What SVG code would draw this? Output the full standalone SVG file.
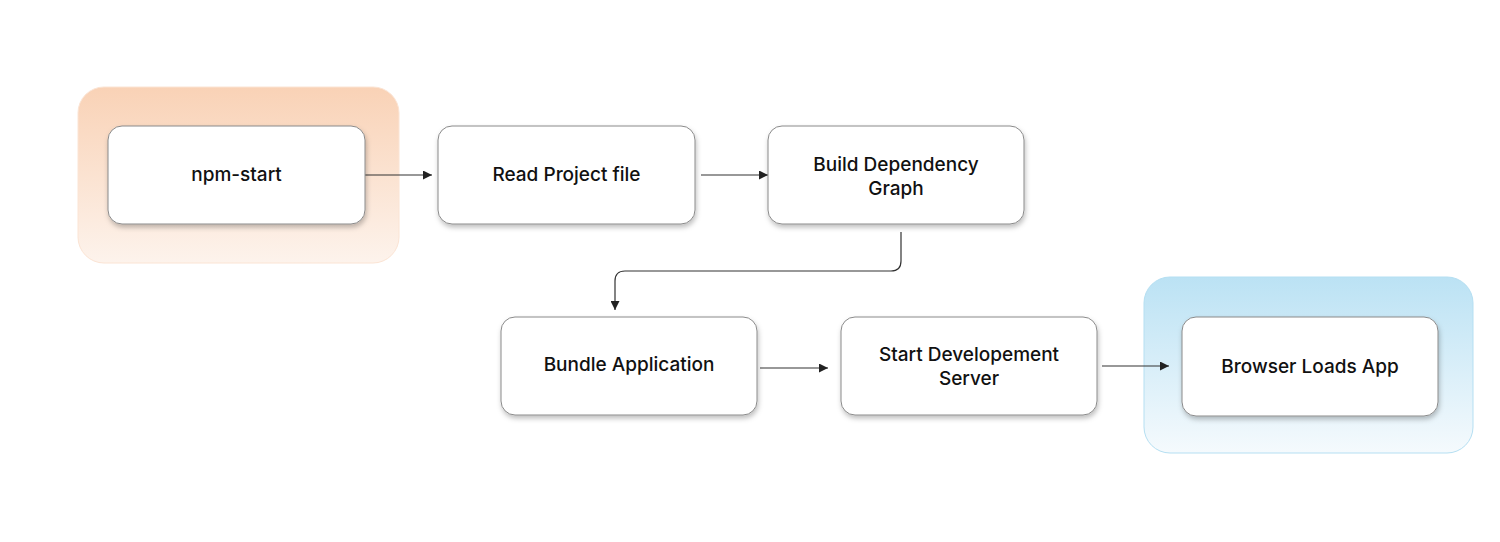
<svg xmlns="http://www.w3.org/2000/svg" width="1500" height="542" viewBox="0 0 1500 542">
<style>
.node rect{fill:#fff;stroke:#8a8a8a;stroke-width:1;filter:url(#sh)}
.node text{font-family:Inter,"Noto Sans","Liberation Sans",sans-serif;font-size:19px;font-weight:500;fill:#111;text-anchor:middle;dominant-baseline:central}
.conn path{fill:none;stroke:#333;stroke-width:1.2;marker-end:url(#arr)}
</style>
<defs>
<linearGradient id="gOr" x1="0" y1="0" x2="0" y2="1"><stop offset="0" stop-color="#F9D2B6"/><stop offset="1" stop-color="#FDF3EC"/></linearGradient>
<linearGradient id="gBl" x1="0" y1="0" x2="0" y2="1"><stop offset="0" stop-color="#BBE2F4"/><stop offset="1" stop-color="#F5FAFD"/></linearGradient>
<filter id="sh" x="-10%" y="-10%" width="120%" height="130%"><feDropShadow dx="1" dy="3" stdDeviation="2.5" flood-color="#000" flood-opacity="0.25"/></filter>
<marker id="arr" viewBox="0 0 10 10" refX="10" refY="5" markerWidth="9" markerHeight="9" markerUnits="userSpaceOnUse" orient="auto"><path d="M0,0 L10,5 L0,10 z" fill="#222"/></marker>
</defs>
<rect width="1500" height="542" fill="#fff"/>
<g id="container-start"><rect x="78" y="87" width="321" height="176" rx="26" fill="url(#gOr)" stroke="#FBE4D4" stroke-width="1"/></g>
<g id="container-browser"><rect x="1144" y="277" width="329" height="176" rx="26" fill="url(#gBl)" stroke="#B5DFF2" stroke-width="1"/></g>
<g class="conn" id="connectors">
<path d="M365,175 H432"/>
<path d="M701,175 H768"/>
<path d="M901,232 V261 Q901,271 891,271 H625 Q615,271 615,281 V310"/>
<path d="M760,368 H828"/>
<path d="M1102,366 H1169"/>
</g>
<g class="node" id="n-npm-start"><rect x="108" y="126" width="257" height="98" rx="14"/><text x="236.5" y="174">npm-start</text></g>
<g class="node" id="n-read"><rect x="438" y="126" width="257" height="98" rx="14"/><text x="566.5" y="174">Read Project file</text></g>
<g class="node" id="n-build"><rect x="768" y="126" width="256" height="98" rx="14"/><text x="896" y="164">Build Dependency</text><text x="896" y="188">Graph</text></g>
<g class="node" id="n-bundle"><rect x="501" y="317" width="256" height="98" rx="14"/><text x="629" y="364">Bundle Application</text></g>
<g class="node" id="n-server"><rect x="841" y="317" width="256" height="98" rx="14"/><text x="969" y="354">Start Developement</text><text x="969" y="378">Server</text></g>
<g class="node" id="n-browser"><rect x="1182" y="317" width="256" height="99" rx="14"/><text x="1310" y="366">Browser Loads App</text></g>
</svg>
